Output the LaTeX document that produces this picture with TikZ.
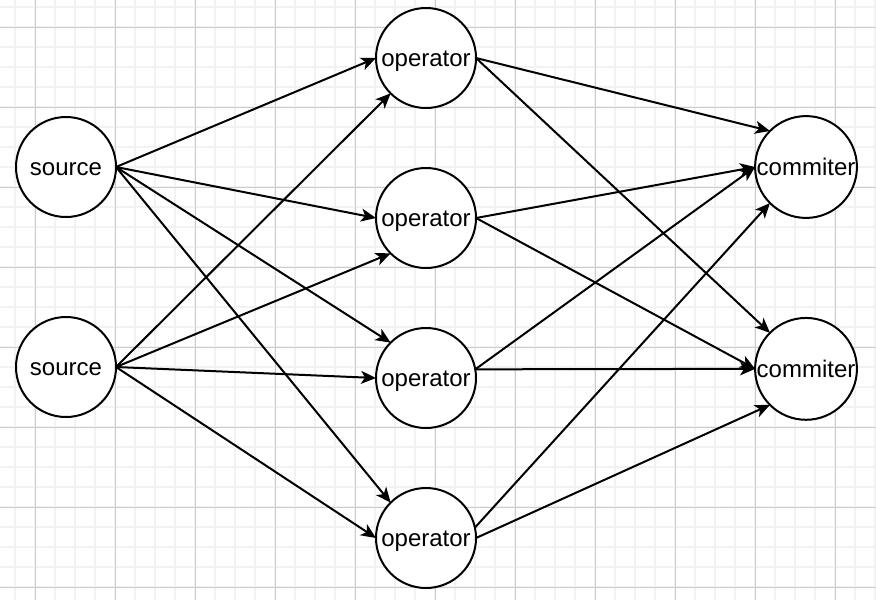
\documentclass[tikz,border=0pt]{standalone}
\usepackage{fontspec}
\setmainfont{Liberation Sans}
\usetikzlibrary{arrows.meta, positioning}

\begin{document}
\begin{tikzpicture}[
  x=0.5pt, y=-0.5pt,
  every node/.style={
    circle,
    draw=black, line width=1pt,
    fill=white,
    minimum size=50pt,
    inner sep=0pt, outer sep=0pt,
    text height=10.9pt, text depth=2.5pt,
    font=\fontsize{12}{14}\selectfont
  },
  >={Stealth[length=7.5pt,width=6.5pt,inset=2pt]}, %filled arrow tips
  myline/.style={draw, line width=1pt, black},
  minorgrid/.style={draw=black!5, line width=1pt},
  majorgrid/.style={draw=black!20, line width=0.5pt},
  node distance=30pt
  ]
\useasboundingbox (0,0) rectangle (876,600);
% background grid
\foreach \x in {15,35,...,875} \draw[minorgrid] (\x,0) -- (\x,600);
\foreach \y in {7,27,...,600} \draw[minorgrid] (0,\y) -- (876,\y);
\foreach \x in {35,115,...,875} \draw[majorgrid] (\x,0) -- (\x,600);
\foreach \y in {27,107,...,600} \draw[majorgrid] (0,\y) -- (876,\y);

\node (S1) at (66,167) {source};
\node[below=50pt of S1] (S2) {source};

\node (O1) at (426,58) {operator};
\node[below=of O1] (O2) {operator};
\node[below=of O2] (O3) {operator};
\node[below=of O3] (O4) {operator};

\node (C1) at (806,167) {commiter};
\node[below=50pt of C1] (C2) {commiter};

\path[myline] (S1.east) edge[->] (O1.west)
              (S1.east) edge[->] (O2.west)
              (S1.east) edge[->] (O3.north west)
              (S1.east) edge[->] (O4.north west)
              (S2.east) edge[->] (O1.south west)
              (S2.east) edge[->] (O2.south west)
              (S2.east) edge[->] (O3.west)
              (S2.east) edge[->] (O4.west)
              ;
\path[myline] (O1.east) edge[->] (C1.north west)
              (O1.east) edge[->] (C2.north west)
              (O2.east) edge[->] (C1.west)
              (O2.east) edge[->] (C2.west)
              (O3.10)   edge[->] (C1.west)
              (O3.10)   edge[->] (C2.west)
              (O4.12)   edge[->] (C1.south west)
              (O4.east) edge[->] (C2.south west)
              ;
\end{tikzpicture}
\end{document}
